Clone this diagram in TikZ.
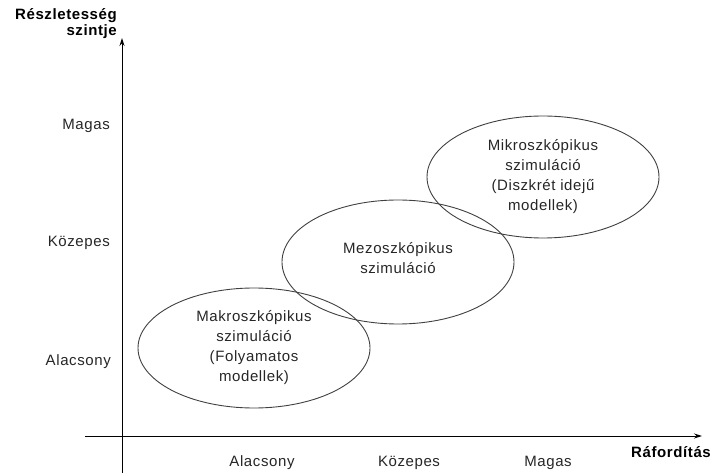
\documentclass[tikz,border=0pt]{standalone}
\usepackage{fontspec}
\setmainfont{Liberation Sans}[LetterSpace=4]
\usetikzlibrary{arrows.meta}
\begin{document}
\begin{tikzpicture}[x=1pt,y=-1pt,
  axis/.style={draw=black,line width=0.9pt},
  region/.style={draw=black!75,line width=0.9pt},
  lbl/.style={font=\fontsize{15}{20}\selectfont,align=center,text=black!85,inner sep=0pt},
  ttl/.style={font=\bfseries\fontsize{15}{16}\selectfont,inner sep=0pt}]
\useasboundingbox (0,0) rectangle (713,473);
% axes
\coordinate (yb) at (122,473);
\coordinate (yt) at (122,38);
\coordinate (xl) at (85,436);
\coordinate (xr) at (702,436);
\draw[axis,-{Stealth[length=8pt,width=5pt]}] (yb) -- (yt);
\draw[axis,-{Stealth[length=8pt,width=5pt]}] (xl) -- (xr);
% axis titles
\node[ttl,anchor=east,align=right] (ytitle) at (117,24) {Részletesség\\szintje};
\node[ttl,anchor=east] (xtitle) at (711,452) {Ráfordítás};
% tick labels
\node[lbl,anchor=east] (ym) at (110,126) {Magas};
\node[lbl,anchor=east] (yk) at (110,243) {Közepes};
\node[lbl,anchor=east] (ya) at (111,362) {Alacsony};
\node[lbl] (xa) at (262,463) {Alacsony};
\node[lbl] (xk) at (409,463) {Közepes};
\node[lbl] (xm) at (548,463) {Magas};
% regions
\draw[region] (254,348) ellipse [x radius=116,y radius=60];
\draw[region] (398,262) ellipse [x radius=116,y radius=62];
\draw[region] (543,177) ellipse [x radius=116,y radius=61];
\node[lbl] (makro) at (254,348) {Makroszkópikus\\szimuláció\\(Folyamatos\\modellek)};
\node[lbl] (mezo) at (398,258) {Mezoszkópikus\\szimuláció};
\node[lbl] (mikro) at (543,177) {Mikroszkópikus\\szimuláció\\(Diszkrét idejű\\modellek)};
\end{tikzpicture}
\end{document}
